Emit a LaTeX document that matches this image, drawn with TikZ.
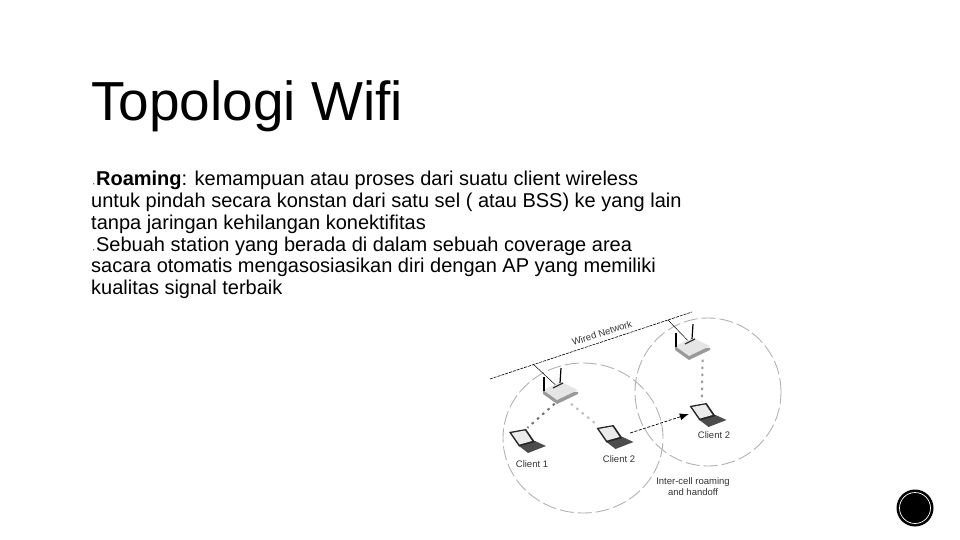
\documentclass[tikz,border=0pt]{standalone}
\usepackage{fontspec}
\setmainfont{Liberation Sans}
\usetikzlibrary{positioning, arrows, arrows.meta, shapes.geometric}

\newcommand{\slidebullet}{\hspace*{2pt}{\fontsize{4}{4}\selectfont ▪}\hspace*{1.5pt}}

\tikzset{
    labeltext/.style={text=black!80, inner sep=0, align=center, font=\fontsize{9.5}{11}\selectfont},
    cell/.style={draw=black!30, ellipse, line width=0.9pt, dash pattern=on 14pt off 4pt},
    apbox/.style={minimum width=36pt, minimum height=25pt, inner sep=0},
    laptopbox/.style={minimum width=38pt, minimum height=24pt, inner sep=0},
    dotlink/.style={line width=2pt, dash pattern=on 2.5pt off 4.5pt},
    laptop/.pic={
        \fill [black!70] (-8.5,6) -- (7.5,1) -- (18.5,6) -- (0.5,13) -- cycle;
        \fill [black!85] (-18.5,-8) -- (-1.5,-11) -- (7.5,2) -- (-8.5,6.5) -- cycle;
        \fill [black!8] (-16,-7) -- (-2.5,-9.5) -- (4.5,1) -- (-8,4.5) -- cycle;
    },
    accesspoint/.pic={
        \fill [black!40] (-19,0) -- (16,1) -- (16,3) -- (-5,13) -- (-19,3) -- cycle;
        \fill [black!10] (-19,-1) -- (-1,-9) -- (16,-1) -- (-5,9) -- cycle;
        \draw [line width=1.3pt, black!80] (-9,-3) -- (1,-8);
        \draw [line width=1.2pt] (-18,0) -- (-18,-14);
        \draw [line width=1.2pt] (-2,-8) -- (-1,-23);
    }
}

\begin{document}
\begin{tikzpicture}[x=1pt, y=-1pt, >=latex']
    \useasboundingbox (0,0) rectangle (960,540);

    \node [inner sep=0, anchor=west,
        font=\fontsize{55}{60}\selectfont
    ] (title) at (91,106) {Topologi Wifi};

    \node [inner sep=0, anchor=north west, align=left,
        font=\fontsize{20}{21.8}\selectfont
    ] (body) at (91,171) {
        \slidebullet\textbf{Roaming}: kemampuan atau proses dari suatu client wireless\\
        untuk pindah secara konstan dari satu sel ( atau BSS) ke yang lain\\
        tanpa jaringan kehilangan konektifitas\\
        \slidebullet Sebuah station yang berada di dalam sebuah coverage area\\
        sacara otomatis mengasosiasikan diri dengan AP yang memiliki\\
        kualitas signal terbaik
    };

    % sel
    \node [cell, minimum width=160pt, minimum height=150pt] (cellleft) at (583,438) {};
    \node [cell, minimum width=146pt, minimum height=148pt] (cellright) at (708,392) {};

    \node [apbox] (apleft) at (562,391) {};
    \node [apbox] (apright) at (694,347) {};
    \node [laptopbox] (clientone) at (527.5,440) {};
    \node [laptopbox] (clienttwo) at (615,436) {};
    \node [laptopbox] (clientmoved) at (708,414) {};

    % kabel
    \coordinate (wiredstart) at (490,379);
    \coordinate (wiredend) at (692,312);
    \coordinate (tapleft) at (533,364);
    \coordinate (tapright) at (668,320);
    \draw [dash pattern=on 3pt off 1pt, line width=0.6pt] (wiredstart) -- (wiredend);
    \draw [line width=0.5pt] (tapleft) -- (apleft.center);
    \draw [line width=0.5pt] (tapright) -- (apright.center);

    % link
    \draw [dotlink, black!55] (apleft.-120) -- (clientone.north);
    \draw [dotlink, black!25] (apleft.-55) -- (clienttwo.north west);
    \draw [dotlink, black!40] (apright.-56) -- (clientmoved.117);
    \draw [-{Latex[length=9pt,width=7pt]}, dash pattern=on 3pt off 1.5pt, line width=0.7pt] (clienttwo.east) ++(-4,-3) -- (clientmoved.west);

    \pic at (apleft) {accesspoint};
    \pic at (apright) {accesspoint};
    \pic at (clientone) {laptop};
    \pic at (clienttwo) {laptop};
    \pic at (clientmoved) {laptop};

    % label
    \node [labeltext, rotate=18] (wiredlabel) at (602,333) {Wired Network};
    \node [labeltext] (labelone) at (532,464) {Client 1};
    \node [labeltext] (labeltwo) at (619,459) {Client 2};
    \node [labeltext] (labelmoved) at (714,435) {Client 2};
    \node [labeltext] (handoff) at (693,487) {Inter-cell roaming\\and handoff};

    \node [circle, fill=black, minimum size=37pt, inner sep=0] (badge) at (915,508) {};
    \node [circle, draw=white, line width=0.7pt, minimum size=31pt, inner sep=0] (badgering) at (badge) {};
\end{tikzpicture}
\end{document}
